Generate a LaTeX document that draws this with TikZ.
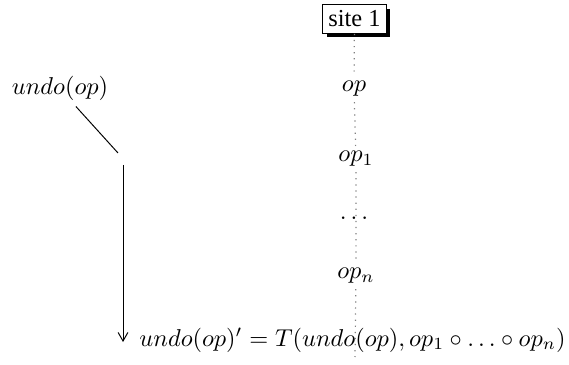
\documentclass[tikz,border=0pt]{standalone}
\usepackage{fontspec}
\setmainfont{Liberation Serif}
\usetikzlibrary{shadows,arrows.meta}
\begin{document}
\begin{tikzpicture}[x=0.41pt,y=-0.41pt,
  lbl/.style={inner sep=2pt,anchor=base},
  sitebox/.style={draw,fill=white,inner xsep=2.3pt,inner ysep=2.5pt,line width=0.4pt,anchor=base,
    drop shadow={shadow xshift=1.6pt,shadow yshift=-1.6pt,fill=black,opacity=1}},
  seq/.style={gray,dotted,line width=0.5pt}]
\useasboundingbox (0,0) rectangle (569,365);
\node[sitebox] (site) at (354.5,27) {site 1};
\node[lbl] (op) at (354,92) {$op$};
\node[lbl] (op1) at (356,162) {$op_1$};
\node[lbl] (dots) at (354,220) {$\ldots$};
\node[lbl] (opn) at (356,279) {$op_n$};
\coordinate (end) at (355,357);
\draw[seq] (site) -- (op) -- (op1) -- (opn) -- (end);
\node[lbl] (undo) at (60,95) {$undo(op)$};
\coordinate (c) at (118,153);
\draw[line width=0.4pt] (undo) -- (c);
\coordinate (a1) at (123,165);
\node[lbl,anchor=base west,inner sep=0pt] (res) at (139,346) {$undo(op)' = T(undo(op), op_1\circ\ldots\circ op_n)$};
\coordinate (a2) at (123,342);
\draw[-{Straight Barb[length=3.5pt,width=4pt]},line width=0.4pt] (a1) -- (a2);
\end{tikzpicture}
\end{document}
